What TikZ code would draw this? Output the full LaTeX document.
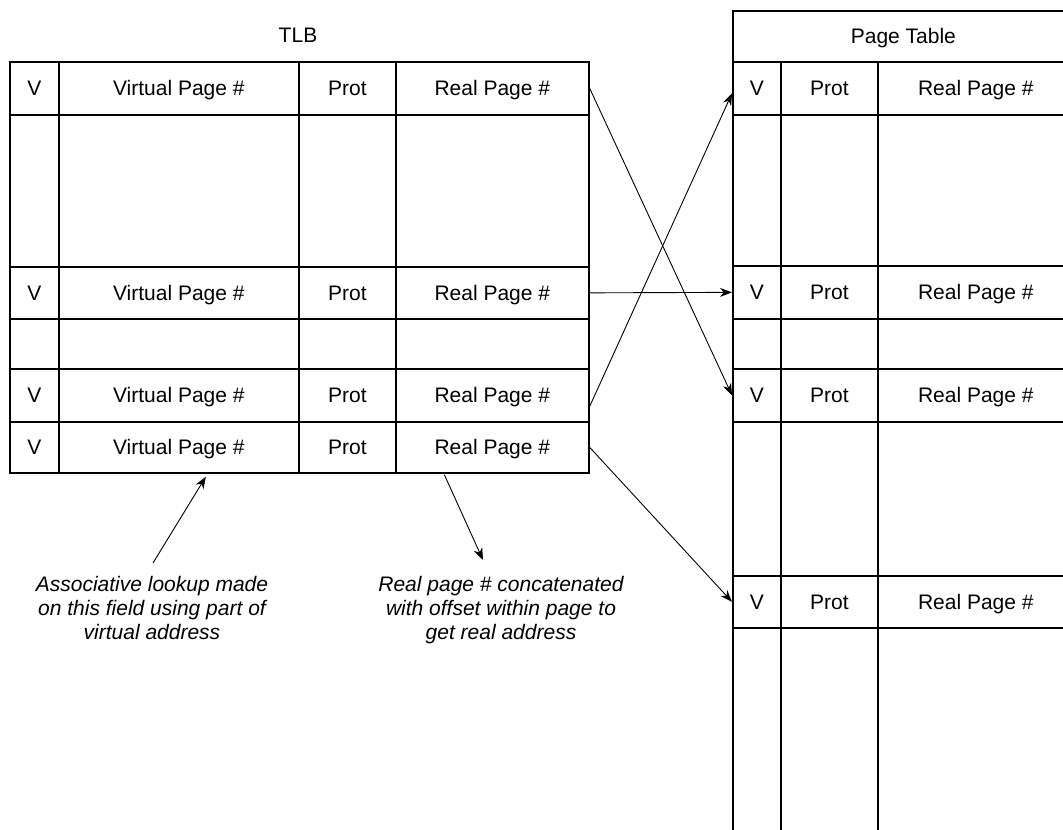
\documentclass[tikz,border=0pt]{standalone}
\usepackage{fontspec}
\setmainfont{Liberation Sans}
\usetikzlibrary{arrows.meta,calc}

\begin{document}
\begin{tikzpicture}[
  x=1pt,y=-1pt,
  cell/.style={draw,line width=1.7pt,anchor=north west,inner sep=0pt,
    text height=15pt,text depth=0pt,font=\fontsize{21}{24}\selectfont},
  ptr/.style={-{Stealth[length=12pt,width=9pt]},line width=0.9pt},
  note/.style={anchor=north,align=center,inner sep=0pt,
    font=\fontsize{21}{24}\selectfont\itshape},
]
\clip (0,0) rectangle (1063,830);

% TLB
\node[font=\fontsize{21}{24}\selectfont] (tlb) at (298,35) {TLB};
\foreach \n/\y/\h in {1/61/53,2/266/52,3/368/53,4/421/51}{
  \node[cell,minimum width=49,minimum height=\h] (tv\n) at (9,\y) {V};
  \node[cell,minimum width=240,minimum height=\h] (tvp\n) at (58,\y) {Virtual Page \#};
  \node[cell,minimum width=97,minimum height=\h] (tp\n) at (298,\y) {Prot};
  \node[cell,minimum width=193,minimum height=\h] (tr\n) at (395,\y) {Real Page \#};
}
\foreach \n/\y/\h in {1/114/152,2/318/50}{
  \node[cell,minimum width=49,minimum height=\h] (tbv\n) at (9,\y) {};
  \node[cell,minimum width=240,minimum height=\h] (tbvp\n) at (58,\y) {};
  \node[cell,minimum width=97,minimum height=\h] (tbp\n) at (298,\y) {};
  \node[cell,minimum width=193,minimum height=\h] (tbr\n) at (395,\y) {};
}

% Page table
\node[cell,minimum width=341,minimum height=51] (pt) at (732,10) {Page Table};
\foreach \n/\y/\h in {1/61/53,2/265/53,3/368/53,4/575/52}{
  \node[cell,minimum width=48,minimum height=\h] (pv\n) at (732,\y) {V};
  \node[cell,minimum width=97,minimum height=\h] (pp\n) at (780,\y) {Prot};
  \node[cell,minimum width=196,minimum height=\h] (pr\n) at (877,\y) {Real Page \#};
}
\foreach \n/\y/\h in {1/114/151,2/318/50,3/421/154,4/627/220}{
  \node[cell,minimum width=48,minimum height=\h] (pbv\n) at (732,\y) {};
  \node[cell,minimum width=97,minimum height=\h] (pbp\n) at (780,\y) {};
  \node[cell,minimum width=196,minimum height=\h] (pbr\n) at (877,\y) {};
}

% TLB entries point into the page table
\draw[ptr] (tr1.east) -- (pv3.west);
\draw[ptr] (tr2.east) -- (pv2.west);
\draw[ptr] ($(tr3.east)+(0,11)$) -- ($(pv1.west)+(0,5)$);
\draw[ptr] (tr4.east) -- (pv4.west);

% Notes
\node[note] (lookup) at (152,576) {Associative lookup made\\on this field using part of\\virtual address};
\node[note] (concat) at (501,576) {Real page \# concatenated\\with offset within page to\\get real address};
\draw[ptr] ($(lookup.north)+(1,-13)$) -- ($(tvp4.south)+(27,3)$);
\draw[ptr] ($(tr4.south)+(-48,1)$) -- ($(concat.north)+(-18,-16)$);

\end{tikzpicture}
\end{document}
